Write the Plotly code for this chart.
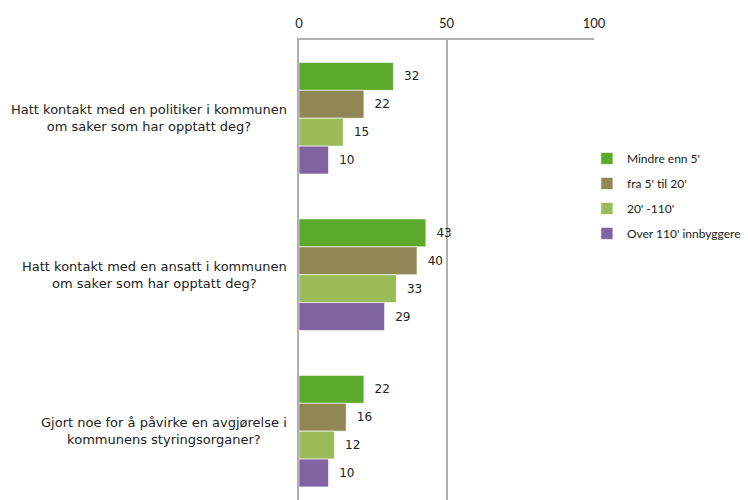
import plotly.graph_objects as go

categories = [
    "Hatt kontakt med en politiker i kommunen<br>om saker som har opptatt deg?",
    "Hatt kontakt med en ansatt i kommunen<br>om saker som har opptatt deg?",
    "Gjort noe for å påvirke en avgjørelse i<br>kommunens styringsorganer?",
]
series_names = ["Mindre enn 5'", "fra 5' til 20'", "20' -110'", "Over 110' innbyggere"]
mindre_enn_5 = [32, 43, 22]
fra_5_til_20 = [22, 40, 16]
fra_20_til_110 = [15, 33, 12]
over_110 = [10, 29, 10]
series_values = [mindre_enn_5, fra_5_til_20, fra_20_til_110, over_110]
colors = ["#5BAA2B", "#918755", "#9BBB59", "#8064A2"]
x_ticks = [0, 50, 100]

positions = list(range(len(categories)))

fig = go.Figure()
for name, vals, col in zip(series_names, series_values, colors):
    fig.add_trace(go.Bar(
        y=positions, x=vals, name=name, orientation="h", legendgroup=name,
        marker=dict(color=col, line=dict(color="rgba(255,255,255,0.6)", width=1)),
        text=vals, texttemplate="  %{text}", textposition="outside",
        textfont=dict(family="DejaVu Sans", size=12, color="#222222"),
        cliponaxis=False,
    ))

for i, cat in enumerate(categories):
    fig.add_annotation(
        x=-0.034, xref="paper", y=i, yref="y", text=cat, showarrow=False,
        xanchor="right", yanchor="middle", align="center",
        font=dict(family="DejaVu Sans", size=13, color="#222222"),
    )

fig.update_layout(
    width=748, height=500,
    margin=dict(l=299, r=154, t=40, b=0),
    paper_bgcolor="white", plot_bgcolor="white",
    barmode="group", bargap=0.287, bargroupgap=0,
    showlegend=True,
    legend=dict(
        x=0.976, xanchor="left", y=0.661, yanchor="middle",
        font=dict(family="Lato", size=12, color="#222222"),
        itemwidth=30, tracegroupgap=6, traceorder="grouped",
        bgcolor="rgba(0,0,0,0)",
    ),
    xaxis=dict(
        side="top", range=[0, 100], tickvals=x_ticks,
        showgrid=True, gridcolor="#B0B0B0", gridwidth=1.5,
        showline=True, linecolor="#B0B0B0", linewidth=1.5, mirror=False,
        zeroline=False, ticks="", ticklabelstandoff=5,
        tickfont=dict(family="Lato", size=13, color="#222222"),
    ),
    yaxis=dict(
        range=[2.44, -0.5], showticklabels=False, ticks="",
        showgrid=False, zeroline=False,
        showline=True, linecolor="#B0B0B0", linewidth=1.5,
    ),
)

fig.write_html("out.html")
